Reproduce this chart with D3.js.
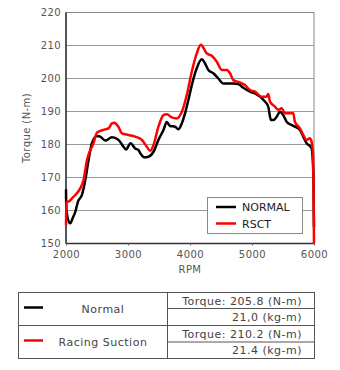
<!DOCTYPE html>
<html>
<head>
<meta charset="utf-8">
<script src="https://cdn.jsdelivr.net/npm/d3@7"></script>
<style>
  body { margin: 0; background: #fff; }
  svg { display: block; font-family: "DejaVu Sans", Verdana, sans-serif; }
</style>
</head>
<body>
<div id="chart"></div>
<script>
// torque curves, rpm vs N-m
const normalRpm = [2000, 2005, 2030, 2069, 2110, 2150, 2193, 2257, 2311, 2364, 2418, 2499, 2552, 2633, 2741, 2847, 2928, 2971, 3040, 3116, 3169, 3200, 3261, 3330, 3411, 3491, 3572, 3626, 3679, 3760, 3813, 3868, 3921, 3974, 4029, 4109, 4190, 4227, 4296, 4377, 4457, 4538, 4699, 4779, 4860, 4968, 5048, 5209, 5262, 5306, 5343, 5398, 5451, 5504, 5558, 5639, 5692, 5773, 5826, 5881, 5934, 5961, 5990, 6000];
const normalTorque = [166.4, 161.1, 157.5, 156.1, 157.8, 159.6, 162.7, 164.7, 169.2, 175.3, 180.4, 182.6, 182.4, 181.2, 182.2, 181.4, 179.3, 178.5, 180.4, 178.8, 178.3, 177.3, 176.1, 176.3, 177.8, 181.4, 184.4, 186.8, 185.6, 185.4, 184.6, 186.4, 189.5, 193.5, 198, 203.1, 205.8, 205.1, 202.6, 201.6, 200, 198.5, 198.5, 198.3, 197.2, 196, 195.5, 193, 191.5, 187.4, 187.4, 188.4, 189.9, 188.9, 186.9, 185.9, 185.4, 184.4, 182.4, 180.4, 179.5, 178.8, 171, 155];

const rsctRpm = [2000, 2008, 2042, 2097, 2150, 2230, 2283, 2338, 2444, 2499, 2633, 2686, 2741, 2780, 2840, 2902, 3008, 3116, 3224, 3304, 3357, 3411, 3491, 3572, 3626, 3707, 3787, 3868, 3948, 4029, 4109, 4175, 4200, 4271, 4351, 4432, 4512, 4593, 4646, 4699, 4807, 4887, 4968, 5048, 5156, 5236, 5262, 5290, 5370, 5424, 5478, 5531, 5612, 5665, 5692, 5773, 5826, 5881, 5934, 5961, 5987, 6000];
const rsctTorque = [155.6, 162.7, 162.7, 163.7, 164.7, 166.7, 169.2, 175.3, 180.4, 183.6, 184.6, 184.9, 186.4, 186.6, 185.5, 183.4, 182.9, 182.4, 181.4, 179.3, 178.1, 179.8, 185.4, 188.9, 189.2, 188.2, 187.9, 189.9, 195, 202.1, 207.6, 210.2, 209.8, 207.6, 206.9, 205.1, 202.6, 202.6, 201.6, 199.5, 198.8, 198, 196.5, 196, 194.5, 194.5, 195.3, 193, 191.5, 190.5, 191, 189.5, 189.5, 189.5, 186.9, 184.9, 182.9, 181.4, 181.9, 180.8, 176.3, 150];

const xTicks = [2000, 3000, 4000, 5000, 6000];
const yTicks = [150, 160, 170, 180, 190, 200, 210, 220];
const legendNames = ["NORMAL", "RSCT"];
const seriesColors = ["#000000", "#ff0000"];

const tableNames = ["Normal", "Racing Suction"];
const tableNm = ["Torque: 205.8 (N-m)", "Torque: 210.2 (N-m)"];
const tableKgm = ["21,0 (kg-m)", "21.4 (kg-m)"];

const width = 340, height = 370;
const plotLeft = 66, plotRight = 314, plotTop = 12.5, plotBottom = 243.5;

const svg = d3.select("#chart").append("svg")
    .attr("width", width)
    .attr("height", height);

const x = d3.scaleLinear().domain([2000, 6000]).range([plotLeft, plotRight]);
const y = d3.scaleLinear().domain([150, 220]).range([plotBottom, plotTop]);

// grid
svg.append("g")
    .selectAll("line")
    .data(yTicks.slice(1))
    .join("line")
    .attr("x1", plotLeft).attr("x2", plotRight)
    .attr("y1", d => y(d)).attr("y2", d => y(d))
    .attr("stroke", "#999")
    .attr("stroke-width", 1);

// frame
svg.append("rect")
    .attr("x", plotLeft).attr("y", plotTop)
    .attr("width", plotRight - plotLeft).attr("height", plotBottom - plotTop)
    .attr("fill", "none")
    .attr("stroke", "#888")
    .attr("stroke-width", 1);

svg.append("line")
    .attr("x1", plotLeft).attr("x2", plotLeft)
    .attr("y1", plotTop).attr("y2", plotBottom)
    .attr("stroke", "#333").attr("stroke-width", 1.5);
svg.append("line")
    .attr("x1", plotLeft).attr("x2", plotRight)
    .attr("y1", plotBottom).attr("y2", plotBottom)
    .attr("stroke", "#333").attr("stroke-width", 1.5);

// ticks
const xAxis = svg.append("g")
    .attr("transform", `translate(0,${plotBottom})`)
    .call(d3.axisBottom(x).tickValues(xTicks).tickSize(2).tickPadding(5).tickFormat(d3.format("d")));
xAxis.select(".domain").remove();
xAxis.selectAll("line").attr("stroke", "#666");
xAxis.selectAll("text").attr("fill", "#555").style("font-size", "10px")
    .style("letter-spacing", "0.5px")
    .style("font-family", "DejaVu Sans, Verdana, sans-serif");

const yAxis = svg.append("g")
    .attr("transform", `translate(${plotLeft},0)`)
    .call(d3.axisLeft(y).tickValues(yTicks).tickSize(0).tickPadding(5));
yAxis.select(".domain").remove();
yAxis.selectAll("text").attr("fill", "#555").style("font-size", "10px")
    .style("letter-spacing", "0.4px")
    .style("font-family", "DejaVu Sans, Verdana, sans-serif");

svg.append("text")
    .attr("x", (plotLeft + plotRight) / 2).attr("y", 273)
    .attr("text-anchor", "middle")
    .attr("fill", "#555")
    .style("font-size", "10px")
    .style("letter-spacing", "0.4px")
    .text("RPM");

svg.append("text")
    .attr("transform", `translate(30,${(plotTop + plotBottom) / 2}) rotate(-90)`)
    .attr("text-anchor", "middle")
    .attr("fill", "#555")
    .style("font-size", "10px")
    .style("letter-spacing", "0.4px")
    .text("Torque (N-m)");

// curves
const line = d3.line()
    .x(d => x(d[0]))
    .y(d => y(d[1]))
    .curve(d3.curveMonotoneX);

const series = [
    d3.zip(normalRpm, normalTorque),
    d3.zip(rsctRpm, rsctTorque)
];

svg.append("defs").append("clipPath").attr("id", "plot")
    .append("rect")
    .attr("x", plotLeft - 2).attr("y", plotTop)
    .attr("width", plotRight - plotLeft + 4).attr("height", plotBottom - plotTop + 1);

svg.append("g")
    .attr("clip-path", "url(#plot)")
    .selectAll("path")
    .data(series)
    .join("path")
    .attr("d", line)
    .attr("fill", "none")
    .attr("stroke", (d, i) => seriesColors[i])
    .attr("stroke-width", 2.5)
    .attr("stroke-linejoin", "round");

// legend
const legend = svg.append("g");
legend.append("rect")
    .attr("x", 207.5).attr("y", 197.5)
    .attr("width", 95).attr("height", 36)
    .attr("fill", "#fff")
    .attr("stroke", "#888");

const legendRow = legend.selectAll("g")
    .data(legendNames)
    .join("g")
    .attr("transform", (d, i) => `translate(0,${207 + i * 16.5})`);
legendRow.append("line")
    .attr("x1", 216).attr("x2", 236)
    .attr("stroke", (d, i) => seriesColors[i])
    .attr("stroke-width", 2.5);
legendRow.append("text")
    .attr("x", 242).attr("y", 4)
    .attr("fill", "#222")
    .style("font-size", "11px")
    .text(d => d);

// table below
const tx0 = 18.5, tx1 = 167.5, tx2 = 314.5;
const rowY = [292.5, 308.5, 325.5, 342, 358.5];
const table = svg.append("g");

table.append("rect")
    .attr("x", tx0).attr("y", rowY[0])
    .attr("width", tx2 - tx0).attr("height", rowY[4] - rowY[0])
    .attr("fill", "none").attr("stroke", "#555");
table.append("line")
    .attr("x1", tx1).attr("x2", tx1)
    .attr("y1", rowY[0]).attr("y2", rowY[4])
    .attr("stroke", "#555");
table.append("line")
    .attr("x1", tx0).attr("x2", tx2)
    .attr("y1", rowY[2]).attr("y2", rowY[2])
    .attr("stroke", "#555");
[1, 3].forEach(r => {
    table.append("line")
        .attr("x1", tx1).attr("x2", tx2)
        .attr("y1", rowY[r]).attr("y2", rowY[r])
        .attr("stroke", "#555");
});

tableNames.forEach((name, i) => {
    const cy = (rowY[i * 2] + rowY[i * 2 + 2]) / 2;
    table.append("line")
        .attr("x1", 24).attr("x2", 43)
        .attr("y1", cy - 1.5).attr("y2", cy - 1.5)
        .attr("stroke", seriesColors[i]).attr("stroke-width", 2.5);
    table.append("text")
        .attr("x", 103).attr("y", cy + 4)
        .attr("text-anchor", "middle")
        .attr("fill", "#444")
        .style("font-size", "11px")
        .style("letter-spacing", "0.5px")
        .text(name);
    table.append("text")
        .attr("x", 302).attr("y", (rowY[i * 2] + rowY[i * 2 + 1]) / 2 + 4)
        .attr("text-anchor", "end")
        .attr("fill", "#444")
        .style("font-size", "11px")
        .style("letter-spacing", "0.5px")
        .text(tableNm[i]);
    table.append("text")
        .attr("x", 302).attr("y", (rowY[i * 2 + 1] + rowY[i * 2 + 2]) / 2 + 4)
        .attr("text-anchor", "end")
        .attr("fill", "#444")
        .style("font-size", "11px")
        .style("letter-spacing", "0.5px")
        .text(tableKgm[i]);
});
</script>
</body>
</html>
